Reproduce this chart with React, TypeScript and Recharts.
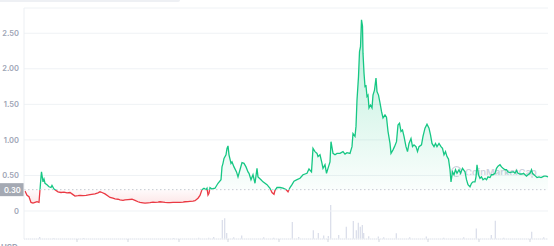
import {
  Area,
  AreaChart,
  Bar,
  BarChart,
  CartesianGrid,
  ReferenceLine,
  XAxis,
  YAxis,
} from "recharts";

const W = 554;
const H = 246;
const FONT = "Inter, 'Noto Sans', sans-serif";
const GREEN = "#16c784";
const RED = "#ea3943";

const times = [
  2, 6, 10, 14, 18, 22, 26, 30, 32, 34, 35, 38, 40, 42, 46, 50, 54, 56, 60, 64, 68, 74, 80, 86, 92, 98,
  102, 108, 112, 118, 124, 132, 142, 148, 152, 156, 162, 168, 172, 178, 182, 188, 192, 198, 202, 208,
  216, 222, 228, 232, 238, 242, 248, 252, 258, 262, 268, 272, 278, 282, 288, 292, 298, 302, 308, 312,
  318, 322, 328, 332, 338, 342, 348, 352, 356, 360, 364, 366, 368, 370, 372, 376, 382, 388, 394, 396,
  398, 400, 404, 406, 408, 410, 414, 416, 420, 425, 428, 432, 436, 440, 444, 448, 450, 454, 458, 462,
  466, 468, 474, 478, 486, 492, 496, 500, 502, 506, 512, 518, 524, 528, 532, 536, 540, 546, 552, 558,
  566, 570, 575, 578, 582, 586, 588, 592, 596, 598, 602, 605, 608, 612, 614, 618, 622, 626, 632, 638,
  642, 646, 652, 656, 658, 662, 664, 666, 669, 671, 673, 675, 677, 678, 680, 682, 684, 686, 688, 690,
  693, 696, 698, 701, 704, 706, 709, 712, 715, 718, 722, 725, 728, 732, 734, 738, 741, 745, 748, 751,
  754, 757, 760, 764, 767, 770, 774, 777, 780, 784, 787, 790, 795, 798, 802, 806, 810, 813, 816, 820,
  823, 826, 830, 834, 837, 840, 843, 846, 849, 852, 854, 857, 860, 863, 866, 870, 873, 877, 882, 885,
  888, 892, 895, 898, 902, 904, 906, 909, 912, 915, 918, 922, 925, 928, 932, 935, 938, 942, 945, 948,
  952, 955, 958, 962, 965, 968, 972, 976, 979, 982, 985, 988, 992, 996, 999, 1002, 1005, 1008, 1012,
  1015, 1017, 1020, 1023, 1026, 1030, 1034, 1037, 1040, 1044, 1048,
];

const prices = [
  0.28, 0.22, 0.2, 0.12, 0.11, 0.12, 0.13, 0.12, 0.3, 0.48, 0.55, 0.41, 0.45, 0.39, 0.37, 0.34, 0.33,
  0.36, 0.31, 0.29, 0.27, 0.26, 0.265, 0.255, 0.26, 0.23, 0.21, 0.215, 0.22, 0.215, 0.22, 0.23, 0.24,
  0.255, 0.27, 0.26, 0.24, 0.21, 0.19, 0.18, 0.17, 0.165, 0.155, 0.15, 0.155, 0.16, 0.165, 0.15, 0.13,
  0.12, 0.115, 0.11, 0.115, 0.117, 0.125, 0.12, 0.125, 0.13, 0.125, 0.12, 0.118, 0.117, 0.12, 0.12,
  0.122, 0.12, 0.125, 0.13, 0.132, 0.135, 0.14, 0.145, 0.18, 0.22, 0.3, 0.32, 0.3, 0.32, 0.225, 0.25,
  0.33, 0.31, 0.32, 0.39, 0.44, 0.62, 0.67, 0.74, 0.79, 0.88, 0.915, 0.79, 0.67, 0.69, 0.62, 0.55,
  0.48, 0.58, 0.68, 0.67, 0.62, 0.55, 0.53, 0.44, 0.51, 0.39, 0.6, 0.48, 0.44, 0.41, 0.37, 0.32, 0.26,
  0.235, 0.29, 0.33, 0.33, 0.32, 0.3, 0.27, 0.33, 0.37, 0.42, 0.44, 0.46, 0.51, 0.53, 0.59, 0.55, 0.88,
  0.835, 0.81, 0.765, 0.79, 0.67, 0.6, 0.65, 0.53, 0.6, 0.69, 0.975, 0.81, 0.79, 0.81, 0.81, 0.835,
  0.8, 0.82, 0.81, 0.905, 1.09, 1.05, 1.19, 1.56, 1.89, 2.24, 2.31, 2.69, 2.6, 2.22, 1.94, 1.75, 1.76,
  1.61, 1.63, 1.45, 1.49, 1.45, 1.63, 1.7, 1.87, 1.68, 1.63, 1.52, 1.4, 1.31, 1.35, 1.32, 1.12, 0.95,
  0.81, 0.86, 0.905, 0.975, 1.21, 1.235, 1.12, 1.14, 1.05, 0.905, 0.835, 0.95, 1.02, 0.905, 0.93,
  0.905, 0.835, 0.905, 0.93, 1.05, 1.165, 1.22, 1.165, 1.07, 0.95, 0.905, 0.95, 0.905, 0.95, 0.905,
  0.88, 0.79, 0.835, 0.765, 0.73, 0.58, 0.41, 0.55, 0.51, 0.58, 0.53, 0.58, 0.53, 0.6, 0.55, 0.44,
  0.37, 0.34, 0.39, 0.41, 0.41, 0.48, 0.65, 0.51, 0.46, 0.48, 0.44, 0.46, 0.44, 0.48, 0.47, 0.51,
  0.51, 0.53, 0.6, 0.63, 0.65, 0.62, 0.6, 0.58, 0.58, 0.55, 0.54, 0.55, 0.55, 0.53, 0.57, 0.53, 0.52,
  0.52, 0.53, 0.51, 0.49, 0.51, 0.53, 0.58, 0.53, 0.51, 0.49, 0.47, 0.48, 0.47, 0.48, 0.49, 0.49, 0.48,
];

const volTimes = [
  32, 60, 120, 300, 350, 370, 380, 397, 402, 406, 420, 436, 480, 500, 537, 550, 579, 589, 600, 609,
  614, 630, 645, 659, 665, 669, 673, 677, 680, 690, 709, 720, 745, 772, 805, 840, 880, 905, 935, 943,
  960, 1016, 1040,
];
const volumes = [
  6, 2, 3, 3, 4, 4, 6, 56, 61, 18, 5, 10, 5, 4, 50, 6, 26, 18, 10, 9, 100, 12, 36, 53, 26, 48, 36, 41,
  18, 8, 7, 5, 17, 5, 7, 4, 5, 31, 12, 54, 4, 21, 5,
];

const priceTicks = [0, 0.5, 1, 1.5, 2, 2.5];
const timeTicks = [106, 208, 310, 408, 510, 608, 710, 808, 910, 1012];
const baseline = 0.3;

const priceData = times.map((t, i) => ({ t, price: prices[i] }));
const volumeData = volTimes.map((t, i) => ({ t, volume: volumes[i] }));

const hi = Math.max(...prices);
const lo = Math.min(...prices);
const split = (hi - baseline) / (hi - lo);

function TickMark({ x, y }: any) {
  return <line x1={x} x2={x} y1={y} y2={y + 3} stroke="#d3d7df" strokeWidth={1} />;
}

function PriceTag({ viewBox }: any) {
  const y = viewBox?.y ?? 0;
  const x = (viewBox?.x ?? 24) - 24;
  return (
    <g>
      <rect x={x} y={y - 6.5} width={24} height={13} fill="#a4a9b3" />
      <text x={x + 4} y={y + 3} fill="#ffffff" fontSize={7.5} fontWeight={600} fontFamily={FONT}>
        {baseline.toFixed(2)}
      </text>
    </g>
  );
}

export default function App() {
  return (
    <div style={{ position: "fixed", left: 0, top: 0, width: W, height: H, overflow: "hidden", background: "#fff" }}>
      <div style={{ position: "absolute", left: 0, top: 0, width: 180, height: 2, background: "#eef0f4", borderRadius: "0 0 4px 0" }} />

      <div style={{ position: "absolute", left: 0, top: 0 }}>
        <BarChart width={W} height={H} data={volumeData} margin={{ top: 8, right: 6, bottom: 7, left: 24 }}>
          <XAxis type="number" dataKey="t" domain={[0, 1048]} hide />
          <YAxis domain={[0, 680]} hide />
          <ReferenceLine y={0} stroke="#d6d9e8" strokeDasharray="1 1" />
          <Bar dataKey="volume" fill="#d0d5e4" barSize={1} isAnimationActive={false} />
        </BarChart>
      </div>

      <svg width={W} height={H} style={{ position: "absolute", left: 0, top: 0 }}>
        <circle cx={456.5} cy={171.5} r={4.8} fill="none" stroke="#ccd0dc" strokeWidth={1.3} />
        <text x={465} y={175.5} fontSize={9.5} fontWeight={600} fontFamily={FONT} fill="#cdd1dc">
          CoinMarketCap
        </text>
      </svg>

      <div style={{ position: "absolute", left: 0, top: 0 }}>
        <AreaChart width={W} height={H} data={priceData} margin={{ top: 8, right: 6, bottom: 0, left: 0 }}>
          <defs>
            <linearGradient id="priceStroke" x1="0" y1="0" x2="0" y2="1">
              <stop offset={0} stopColor={GREEN} />
              <stop offset={split} stopColor={GREEN} />
              <stop offset={split} stopColor={RED} />
              <stop offset={1} stopColor={RED} />
            </linearGradient>
            <linearGradient id="priceFill" x1="0" y1="0" x2="0" y2="1">
              <stop offset={0} stopColor={GREEN} stopOpacity={0.3} />
              <stop offset={split} stopColor={GREEN} stopOpacity={0.02} />
              <stop offset={split} stopColor={RED} stopOpacity={0.02} />
              <stop offset={1} stopColor={RED} stopOpacity={0.12} />
            </linearGradient>
          </defs>
          <CartesianGrid vertical={false} stroke="#eff2f5" />
          <XAxis
            type="number"
            dataKey="t"
            domain={[0, 1048]}
            ticks={timeTicks}
            height={7}
            tickSize={0}
            tickMargin={0}
            axisLine={false}
            tickLine={false}
            tick={<TickMark />}
          />
          <YAxis
            domain={[-0.394, 2.855]}
            allowDataOverflow
            ticks={priceTicks}
            width={24}
            tickSize={0}
            tickMargin={5}
            axisLine={{ stroke: "#eceff3" }}
            tickLine={false}
            tickFormatter={(v: number) => (v === 0 ? "0" : v.toFixed(2))}
            tick={{ fill: "#9ea5b5", fontSize: 7.5, fontWeight: 600, fontFamily: FONT }}
          />
          <ReferenceLine y={baseline} stroke="#c5c9d1" strokeDasharray="1.5 2.5" label={<PriceTag />} />
          <Area
            type="linear"
            dataKey="price"
            baseValue={baseline}
            stroke="url(#priceStroke)"
            strokeWidth={1.3}
            fill="url(#priceFill)"
            fillOpacity={1}
            dot={false}
            activeDot={false}
            isAnimationActive={false}
          />
        </AreaChart>
      </div>

      <div style={{ position: "absolute", left: 1, top: 242, fontSize: 8, fontWeight: 700, fontFamily: FONT, color: "#9ea5b5" }}>
        USD
      </div>
    </div>
  );
}
